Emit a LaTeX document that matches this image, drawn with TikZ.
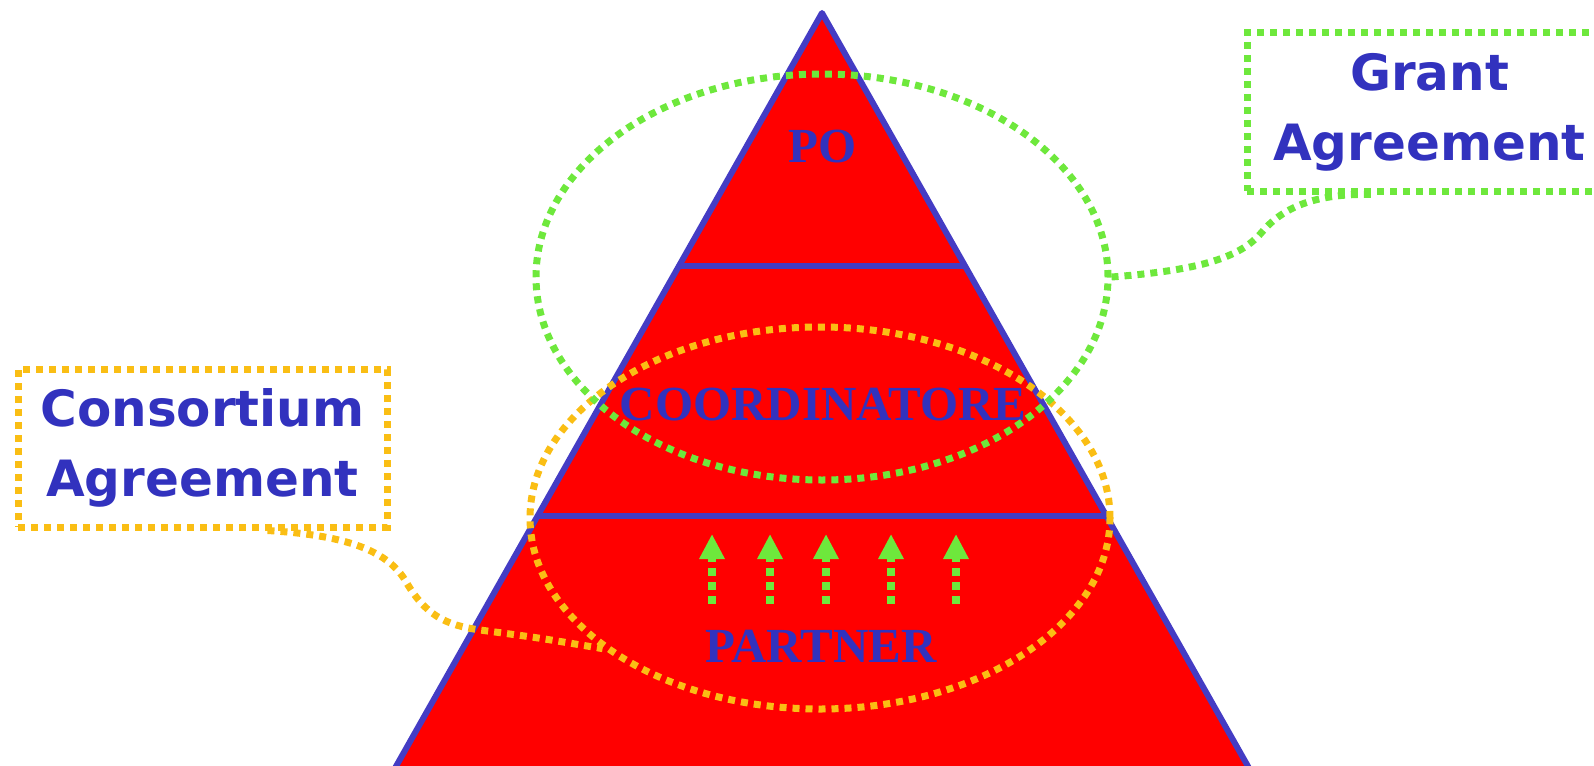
\documentclass[tikz,border=0pt]{standalone}
\usepackage{fontspec}
\newfontfamily\boxfont{DejaVu Sans}
\newfontfamily\tierfont{Liberation Serif}
\usetikzlibrary{shapes.geometric,arrows.meta}

\definecolor{pyrred}{RGB}{255,0,0}
\definecolor{pyrblue}{RGB}{68,60,196}
\definecolor{labelblue}{RGB}{50,50,190}
\definecolor{dotgreen}{RGB}{110,232,60}
\definecolor{dotorange}{RGB}{250,190,20}

\tikzset{
  dotline/.style={line width=7pt, dash pattern=on 7pt off 6pt},
  tierlabel/.style={text=labelblue, font=\tierfont\bfseries\fontsize{49}{55}\selectfont},
  agreebox/.style={dotline, align=center, inner sep=0pt,
    minimum width=365pt, minimum height=158pt, text=labelblue,
    font=\boxfont\bfseries\fontsize{50}{70}\selectfont},
  zone/.style={ellipse, dotline, inner sep=0pt},
}

\begin{document}
\begin{tikzpicture}[x=1pt, y=-1pt]
\useasboundingbox (0,0) rectangle (1594,765);
\clip (0,0) rectangle (1594,765);

% pyramid
\fill[pyrred] (822,13) -- (377,800) -- (1267,800) -- cycle;
\draw[pyrblue, line width=6pt, line join=round] (377,800) -- (822,13) -- (1267,800);
\draw[pyrblue, line width=6pt] (679,266) -- (965,266);
\draw[pyrblue, line width=6pt] (538,516) -- (1106,516);

\node[tierlabel] (po) at (823,147) {PO};
\node[tierlabel] (coord) at (823,405) {COORDINATORE};
\node[tierlabel] (partner) at (821,646) {PARTNER};

% arrows up from the partners
\foreach \ax in {712,770,826,891,956}
  \draw[dotgreen, line width=8pt, dash pattern=on 8pt off 6pt,
        -{Triangle[length=25pt, width=24pt]}] (\ax,604) -- (\ax,534);

% agreements
\node[zone, draw=dotorange, minimum width=580pt, minimum height=382pt] (consell) at (820,518) {};
\node[zone, draw=dotgreen, minimum width=572pt, minimum height=406pt] (grantell) at (822,277) {};

\node[agreebox, draw=dotgreen] (grant) at (1429.5,112) {Grant\\Agreement};
\node[agreebox, draw=dotorange, minimum width=369pt] (consortium) at (202.5,448) {Consortium\\Agreement};

\draw[dotgreen, dotline] (grantell.east) .. controls (1200,270) and (1240,258) .. (1262,232)
  .. controls (1285,205) and (1320,193) .. ([xshift=-55pt]grant.south);
\draw[dotorange, dotline] ([xshift=65pt]consortium.south) .. controls (340,535) and (385,548) .. (405,580)
  .. controls (425,615) and (445,625) .. (480,630) .. controls (540,638) .. (consell.211);
\end{tikzpicture}
\end{document}
